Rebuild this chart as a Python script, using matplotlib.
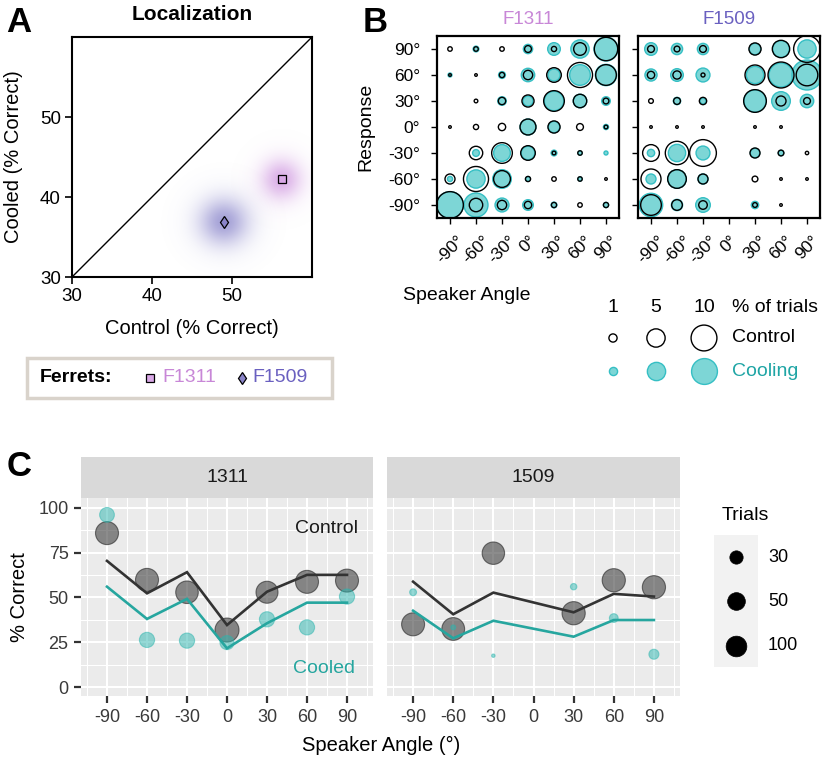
import numpy as np
import matplotlib
matplotlib.use("Agg")
import matplotlib.pyplot as plt
from matplotlib.patches import Rectangle

plt.rcParams['font.family'] = ['Liberation Sans', 'DejaVu Sans']
plt.rcParams['axes.unicode_minus'] = False

nan = np.nan
# ---------------- data ----------------
# Panel A : localization, control vs cooled
FERRETS = ["F1311", "F1509"]
CONTROL_MEAN = [56.2, 49.0]
COOLED_MEAN = [42.2, 36.9]
CLOUD_SD_CONTROL = [1.7, 2.1]
CLOUD_SD_COOLED = [1.7, 2.0]

# Panel B : % of trials (rows = response 90..-90, cols = speaker -90..90)
SPEAKER_ANGLES = [-90, -60, -30, 0, 30, 60, 90]
RESPONSE_ANGLES = [90, 60, 30, 0, -30, -60, -90]
F1311_CONTROL = [
    [0.3, 0.3, 0.3, 0.7, 0.4, 2.4, 8.2],
    [0.1, 0.1, 0.4, 1.3, 3.2, 9.4, 6.4],
    [0.0, 0.2, 0.8, 2.2, 6.4, 2.7, 0.5],
    [0.1, 0.4, 0.8, 3.8, 2.2, 0.7, 0.2],
    [0.0, 2.7, 6.4, 3.2, 0.2, 0.3, 0.0],
    [1.5, 9.4, 4.2, 0.4, 0.3, 0.3, 0.1],
    [10.7, 2.7, 1.3, 0.8, 0.4, 0.3, 0.4],
]
F1311_COOLING = [
    [0.0, 0.5, 0.0, 1.3, 2.4, 5.0, 8.6],
    [0.24, 0.0, 0.7, 2.7, 2.2, 6.4, 6.8],
    [0.0, 0.0, 1.1, 1.5, 5.6, 2.7, 1.1],
    [0.0, 0.0, 0.0, 3.8, 1.9, 0.0, 0.4],
    [0.0, 0.7, 4.2, 2.7, 0.5, 0.24, 0.24],
    [0.4, 5.0, 5.2, 0.33, 0.0, 0.24, 0.0],
    [10.7, 8.6, 2.9, 1.7, 0.5, 0.0, 0.4],
]
F1509_CONTROL = [
    [0.7, 0.5, 0.7, 0.0, 2.2, 4.5, 10.7],
    [0.8, 1.0, 0.24, 0.0, 6.0, 10.1, 7.0],
    [0.33, 0.7, 0.8, 0.0, 7.7, 1.5, 0.7],
    [0.1, 0.1, 0.1, 0.0, 0.1, 0.1, 0.0],
    [4.2, 8.2, 10.7, 0.0, 1.5, 0.5, 0.17],
    [6.0, 5.2, 1.5, 0.0, 0.5, 0.1, 0.1],
    [6.4, 1.7, 1.1, 0.0, 0.33, 0.1, 0.0],
]
F1509_COOLING = [
    [2.4, 1.9, 1.9, 0.0, 1.9, 4.2, 5.0],
    [2.2, 2.4, 2.9, 0.0, 4.5, 8.6, 13.5],
    [0.0, 0.8, 0.5, 0.0, 7.3, 5.2, 2.7],
    [0.0, 0.0, 0.0, 0.0, 0.0, 0.0, 0.0],
    [0.8, 4.5, 2.9, 0.0, 1.3, 0.43, 0.0],
    [1.5, 5.2, 1.5, 0.0, 0.0, 0.0, 0.0],
    [8.2, 1.9, 3.2, 0.0, 0.8, 0.0, 0.0],
]
PCT_BREAKS = [1, 5, 10]

# Panel C : % correct by speaker angle
C_1311_CONTROL_PCT = [85.9, 59.8, 52.9, 31.8, 52.9, 58.7, 59.4]
C_1311_CONTROL_TRIALS = [150, 150, 140, 176, 127, 150, 150]
C_1311_COOLED_PCT = [96.1, 26.3, 25.9, 24.8, 37.8, 33.3, 50.5]
C_1311_COOLED_TRIALS = [36, 38, 38, 33, 38, 38, 38]
C_1311_CONTROL_LINE = [70.4, 52.3, 64.1, 34.6, 53.2, 62.6, 62.6]
C_1311_COOLED_LINE = [56.0, 38.0, 49.2, 21.6, 35.6, 47.1, 47.1]
C_1509_CONTROL_PCT = [35.0, 32.4, 74.7, nan, 41.2, 59.6, 55.7]
C_1509_CONTROL_TRIALS = [150, 145, 137, nan, 155, 155, 155]
C_1509_COOLED_PCT = [52.9, 33.3, 17.5, nan, 56.0, 38.5, 18.3]
C_1509_COOLED_TRIALS = [8, 4, 2, nan, 7, 13, 17]
C_1509_CONTROL_LINE = [58.8, 40.6, 52.7, nan, 41.7, 52.0, 50.5]
C_1509_COOLED_LINE = [42.6, 27.2, 37.0, nan, 28.1, 37.4, 37.4]
TRIAL_BREAKS = [30, 50, 100]

# ---------------- style ----------------
PINK = '#c887d7'
PURPLE = '#6a60c0'
CLOUD_COLORS = [(0.80, 0.56, 0.87), (0.50, 0.48, 0.78)]
MARKER_FILL = ['#d9a8e6', '#8a84c8']
CYAN_FILL = '#7dd6d6'
CYAN_EDGE = '#35bfc4'
TEAL = '#26a69f'
TEAL_TEXT = '#1fa5a5'
PCT_TO_S = 34.6          # pt^2 per % of trials
SIZE_SCALE_TRIALS = [0, 30, 50, 100, 200]
SIZE_SCALE_DIAM = [0, 13.3, 17.7, 20.7, 24.9]   # px


def trials_to_s(n):
    n = np.asarray(n, dtype=float)
    d = np.interp(np.sqrt(n), np.sqrt(SIZE_SCALE_TRIALS), SIZE_SCALE_DIAM)
    return (d * 0.72) ** 2


W, H = 826, 759
fig = plt.figure(figsize=(W / 100, H / 100), dpi=100)


def box(x0, y0, x1, y1):
    return [x0 / W, 1 - y1 / H, (x1 - x0) / W, (y1 - y0) / H]


ov = fig.add_axes([0, 0, 1, 1])
ov.set_xlim(0, W)
ov.set_ylim(H, 0)
ov.axis('off')

# panel letters
for lab, (x, y) in zip("ABC", [(19, 22), (375, 22), (19, 466)]):
    ov.text(x, y, lab, fontsize=25, fontweight='bold', ha='center', va='center')

# ================= Panel A =================
axA = fig.add_axes(box(72, 37, 312, 277))
axA.set_xlim(30, 60)
axA.set_ylim(30, 60)
g = np.linspace(30, 60, 500)
GX, GY = np.meshgrid(g, g)
for i in range(len(FERRETS)):
    r2 = ((GX - CONTROL_MEAN[i]) ** 2 / (2 * CLOUD_SD_CONTROL[i] ** 2)
          + (GY - COOLED_MEAN[i]) ** 2 / (2 * CLOUD_SD_COOLED[i] ** 2))
    a = 0.62 * np.exp(-r2) + 0.08 * np.exp(-r2 / 2.2)
    rgba = np.zeros(GX.shape + (4,))
    rgba[..., :3] = CLOUD_COLORS[i]
    rgba[..., 3] = np.clip(a, 0, 1)
    axA.imshow(rgba, extent=(30, 60, 30, 60), origin='lower', interpolation='bilinear',
               zorder=1, aspect='auto')
axA.plot(axA.get_xlim(), axA.get_ylim(), color='black', lw=1, zorder=2)
axA.plot(CONTROL_MEAN[0], COOLED_MEAN[0], marker='s', ms=6, mfc=MARKER_FILL[0], mec='black',
         mew=0.9, zorder=3)
axA.plot(CONTROL_MEAN[1], COOLED_MEAN[1], marker='d', ms=6, mfc=MARKER_FILL[1], mec='black',
         mew=0.9, zorder=3)
axA.set_xticks([30, 40, 50])
axA.set_yticks([30, 40, 50])
axA.tick_params(direction='out', length=5, width=1.2, labelsize=13.5, pad=3)
for s in axA.spines.values():
    s.set_linewidth(1.5)
ov.text(192, 15, "Localization", fontsize=15, fontweight='bold', ha='center', va='center')
ov.text(192, 328, "Control (% Correct)", fontsize=14.5, ha='center', va='center')
ov.text(14, 157, "Cooled (% Correct)", fontsize=14.5, ha='center', va='center', rotation=90)

# legend box A
ov.add_patch(Rectangle((27, 358), 305, 40, fc='white', ec='#d9d3cb', lw=2.5, clip_on=False))
ov.text(40, 378, "Ferrets:", fontsize=14, fontweight='bold', ha='left', va='center')
ov.plot(150, 378, marker='s', ms=6, mfc=MARKER_FILL[0], mec='black', mew=0.9)
ov.text(162, 378, FERRETS[0], fontsize=14, color=PINK, ha='left', va='center')
ov.plot(242, 378, marker='d', ms=6, mfc=MARKER_FILL[1], mec='black', mew=0.9)
ov.text(252, 378, FERRETS[1], fontsize=14, color=PURPLE, ha='left', va='center')

# ================= Panel B =================
SX, RY = np.meshgrid(SPEAKER_ANGLES, RESPONSE_ANGLES)
for (x0, x1), ctrl, cool, name, col, show_y in [
        ((437, 619), F1311_CONTROL, F1311_COOLING, FERRETS[0], PINK, True),
        ((638, 820), F1509_CONTROL, F1509_COOLING, FERRETS[1], PURPLE, False)]:
    ax = fig.add_axes(box(x0, 36, x1, 218))
    ax.set_xlim(-105, 105)
    ax.set_ylim(-105, 105)
    ctrl = np.array(ctrl)
    cool = np.array(cool)
    m = cool > 0
    ax.scatter(SX[m], RY[m], s=PCT_TO_S * cool[m], fc=CYAN_FILL, ec=CYAN_EDGE, lw=1.0, zorder=2)
    m = ctrl > 0
    ax.scatter(SX[m], RY[m], s=PCT_TO_S * ctrl[m], fc='none', ec='black', lw=1.0, zorder=3)
    ax.set_xticks(SPEAKER_ANGLES)
    ax.set_xticklabels([f"{a}°" for a in SPEAKER_ANGLES], rotation=45, ha='center', va='top')
    ax.set_yticks(RESPONSE_ANGLES)
    if show_y:
        ax.set_yticklabels([f"{a}°" for a in RESPONSE_ANGLES])
    else:
        ax.set_yticklabels([])
    ax.tick_params(direction='out', length=4, width=1.0, labelsize=12.5)
    ax.tick_params(axis='y', pad=8)
    ax.tick_params(axis='x', pad=7)
    for s in ax.spines.values():
        s.set_linewidth(1.6)
    ov.text((x0 + x1) / 2, 19, name, fontsize=13.5, color=col, ha='center', va='center')

ov.text(366, 127, "Response", fontsize=14, ha='center', va='center', rotation=90)
ov.text(403, 295, "Speaker Angle", fontsize=14, ha='left', va='center')

# legend B
for xc, p in zip([613, 656, 704], PCT_BREAKS):
    ov.text(xc, 308, str(p), fontsize=14, ha='center', va='center')
    ov.scatter([xc], [371], s=PCT_TO_S * p, fc=CYAN_FILL, ec=CYAN_EDGE, lw=1.0)
    ov.scatter([xc], [338], s=PCT_TO_S * p, fc='none', ec='black', lw=1.0)
ov.text(732, 308, "% of trials", fontsize=14, ha='left', va='center')
ov.text(732, 338, "Control", fontsize=14, ha='left', va='center')
ov.text(732, 371, "Cooling", fontsize=14, color=TEAL_TEXT, ha='left', va='center')

# ================= Panel C =================
facets = [
    ("1311", (81, 373), C_1311_CONTROL_PCT, C_1311_CONTROL_TRIALS, C_1311_COOLED_PCT,
     C_1311_COOLED_TRIALS, C_1311_CONTROL_LINE, C_1311_COOLED_LINE, True),
    ("1509", (387, 680), C_1509_CONTROL_PCT, C_1509_CONTROL_TRIALS, C_1509_COOLED_PCT,
     C_1509_COOLED_TRIALS, C_1509_CONTROL_LINE, C_1509_COOLED_LINE, False),
]
ang = np.array(SPEAKER_ANGLES, dtype=float)
for name, (x0, x1), cp, ct, kp, kt, cl, kl, first in facets:
    ax = fig.add_axes(box(x0, 498, x1, 696))
    ax.set_facecolor('#ebebeb')
    for s in ax.spines.values():
        s.set_visible(False)
    ax.set_xlim(-109.5, 109.5)
    ax.set_ylim(-5, 105.5)
    ax.set_xticks(SPEAKER_ANGLES)
    ax.set_xticks(np.arange(-105, 106, 30), minor=True)
    ax.set_yticks([0, 25, 50, 75, 100])
    ax.set_yticks([12.5, 37.5, 62.5, 87.5], minor=True)
    ax.grid(which='major', color='white', lw=1.5)
    ax.grid(which='minor', color='white', lw=0.75)
    ax.set_axisbelow(True)
    ax.tick_params(which='minor', length=0)
    ax.tick_params(which='major', direction='out', length=5, width=1.6, color='#333333',
                   labelsize=13, labelcolor='#3a3a3a', pad=4)
    ax.set_xticklabels([str(a) for a in SPEAKER_ANGLES])
    if not first:
        ax.tick_params(axis='y', left=False, labelleft=False)
    cp, ct, kp, kt = map(lambda v: np.array(v, dtype=float), (cp, ct, kp, kt))
    cl, kl = np.array(cl, dtype=float), np.array(kl, dtype=float)
    m = ~np.isnan(cp)
    ax.scatter(ang[m], cp[m], s=trials_to_s(ct[m]), fc='#404040', ec='#222222', lw=0.8,
               alpha=0.6, zorder=3)
    m = ~np.isnan(kp)
    ax.scatter(ang[m], kp[m], s=trials_to_s(kt[m]), fc='#2bb5ae', ec='#2bb5ae', lw=0.8,
               alpha=0.5, zorder=4)
    m = ~np.isnan(cl)
    ax.plot(ang[m], cl[m], color='#333333', lw=1.9, zorder=5, solid_joinstyle='miter')
    m = ~np.isnan(kl)
    ax.plot(ang[m], kl[m], color=TEAL, lw=1.9, zorder=5, solid_joinstyle='miter')
    if first:
        ax.text(98, 88.3, "Control", fontsize=14, color='#1a1a1a', ha='right', va='center')
        ax.text(96, 10.6, "Cooled", fontsize=14, color=TEAL, ha='right', va='center')
    # strip
    st = fig.add_axes(box(x0, 457, x1, 498))
    st.set_facecolor('#d9d9d9')
    st.set_xticks([])
    st.set_yticks([])
    for s in st.spines.values():
        s.set_visible(False)
    st.text(0.5, 0.5, name, fontsize=14, color='#1a1a1a', ha='center', va='center',
            transform=st.transAxes)

ov.text(20, 597, "% Correct", fontsize=14.5, ha='center', va='center', rotation=90)
ov.text(381, 745, "Speaker Angle (°)", fontsize=14.5, ha='center', va='center')

# legend C
ov.text(722, 515, "Trials", fontsize=14, ha='left', va='center')
ov.add_patch(Rectangle((714, 535), 44, 132, fc='#f2f2f2', ec='none'))
for yc, n in zip([557, 601, 646], TRIAL_BREAKS):
    ov.scatter([736], [yc], s=trials_to_s(n), fc='black', ec='black', lw=0.5, zorder=3)
    ov.text(768, yc, str(n), fontsize=13, ha='left', va='center')

fig.savefig("out.png", dpi=100)
